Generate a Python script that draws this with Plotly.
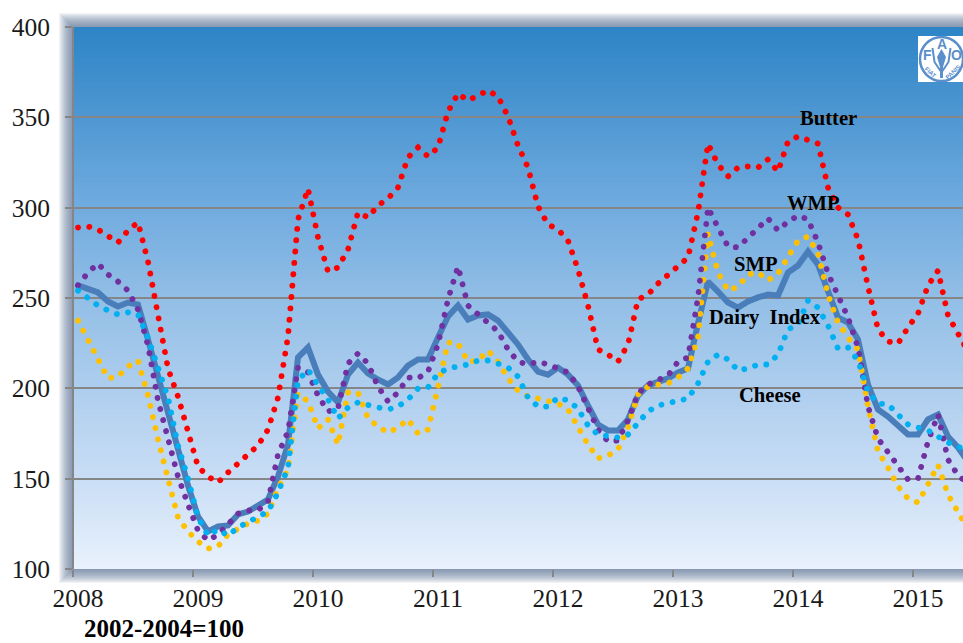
import plotly.graph_objects as go

# FAO dairy price indices, monthly from January 2008 (2002-2004 = 100)
butter = [289.0, 289.6, 287.9, 284.0, 280.7, 287.4, 291.8, 270.2, 240.3, 211.0, 195.5, 175.5,
          156.7, 151.2, 147.9, 153.4, 158.9, 163.4, 168.4, 177.2, 194.9, 228.7, 293.5, 310.6,
          283.5, 264.7, 266.9, 276.8, 297.3, 294.6, 301.2, 305.1, 311.2, 327.8, 333.3, 328.3,
          333.3, 353.2, 363.2, 359.3, 362.1, 364.9, 361.5, 350.5, 334.4, 322.2, 300.7, 290.7,
          287.9, 281.8, 265.8, 245.8, 221.5, 218.7, 214.8, 224.3, 249.2, 251.9, 258.0, 262.5,
          267.4, 272.4, 297.3, 335.4, 323.9, 317.3, 322.2, 322.8, 322.2, 326.7, 320.0, 336.6,
          339.4, 337.7, 335.5, 311.2, 300.1, 296.2, 282.4, 256.3, 232.6, 225.9, 224.8, 233.7,
          241.4, 256.9, 265.1, 240.3, 230.3, 220.4]
dairy_index = [257.0, 255.3, 253.1, 248.1, 245.3, 247.5, 246.4, 227.0, 206.0, 186.1, 166.1, 146.2,
               129.1, 120.8, 123.5, 124.1, 130.2, 131.8, 135.1, 138.5, 151.2, 168.9, 217.1, 222.6,
               207.6, 198.2, 192.2, 207.6, 214.3, 208.2, 204.9, 202.1, 206.0, 212.6, 216.0, 216.0,
               228.1, 239.8, 245.8, 238.1, 240.3, 240.9, 237.5, 230.9, 224.3, 216.0, 209.3, 207.6,
               211.5, 207.6, 201.6, 190.5, 180.0, 176.7, 176.7, 182.8, 196.0, 201.6, 203.8, 205.5,
               208.8, 211.0, 235.9, 259.1, 253.6, 247.5, 244.7, 248.1, 250.3, 251.9, 251.4, 264.1,
               268.0, 275.7, 268.5, 253.6, 239.2, 236.4, 227.0, 202.1, 188.3, 184.4, 178.9, 174.4,
               174.4, 182.8, 185.5, 173.3, 167.3, 159.5]
wmp = [257.0, 264.1, 269.1, 263.0, 259.1, 254.1, 243.6, 223.7, 193.3, 171.1, 151.2, 135.7,
       121.3, 115.8, 119.1, 124.6, 130.7, 132.4, 132.4, 137.4, 163.4, 176.1, 211.5, 208.8,
       196.0, 187.2, 188.8, 213.7, 219.3, 213.7, 201.0, 192.7, 197.7, 206.0, 205.5, 209.3,
       224.3, 249.2, 267.4, 245.8, 240.9, 237.0, 231.5, 221.5, 214.8, 213.2, 214.8, 213.2,
       211.0, 208.8, 201.0, 189.9, 177.2, 170.6, 171.1, 182.2, 197.2, 202.1, 204.9, 207.1,
       214.8, 217.1, 250.3, 300.1, 289.0, 278.5, 278.0, 283.5, 289.0, 294.0, 287.4, 292.3,
       295.6, 293.5, 280.7, 263.6, 251.4, 239.2, 222.6, 189.9, 172.2, 164.5, 156.2, 149.5,
       150.1, 170.6, 185.5, 160.6, 151.8, 147.3]
smp = [237.5, 227.0, 214.8, 205.5, 206.5, 212.1, 215.4, 196.0, 171.7, 149.5, 128.5, 120.8,
       115.2, 111.3, 112.5, 119.1, 122.4, 125.2, 126.8, 130.7, 144.6, 155.1, 197.2, 192.7,
       177.8, 182.8, 168.9, 197.7, 197.7, 183.3, 178.9, 175.5, 178.3, 182.8, 175.0, 177.2,
       200.5, 225.4, 224.8, 214.8, 215.4, 220.9, 214.8, 205.5, 198.8, 195.5, 194.4, 193.3,
       191.6, 188.3, 178.9, 168.9, 161.2, 162.8, 166.1, 178.3, 196.6, 201.0, 202.1, 202.7,
       206.0, 211.0, 228.1, 285.7, 264.1, 254.1, 256.3, 263.0, 264.1, 259.7, 263.6, 272.4,
       281.8, 284.0, 274.6, 251.9, 236.4, 228.1, 221.5, 189.9, 165.0, 156.2, 145.7, 139.0,
       136.8, 146.8, 157.6, 141.2, 130.7, 121.9]
cheese = [254.1, 250.3, 245.8, 243.1, 240.9, 242.0, 240.9, 228.1, 211.0, 194.9, 168.4, 150.1,
          128.5, 118.5, 121.9, 118.5, 123.0, 125.7, 129.1, 131.8, 142.3, 156.2, 204.3, 210.4,
          201.6, 193.8, 183.3, 189.4, 192.2, 190.5, 189.4, 188.3, 189.9, 193.8, 199.9, 200.5,
          208.2, 211.0, 212.1, 213.2, 215.4, 215.4, 213.7, 211.5, 206.5, 194.9, 189.9, 189.9,
          194.9, 193.3, 188.8, 179.4, 174.4, 173.3, 172.8, 174.4, 181.1, 187.2, 190.5, 191.6,
          192.7, 194.4, 202.7, 214.8, 218.7, 216.0, 209.9, 211.0, 213.2, 213.2, 218.7, 232.6,
          235.3, 248.6, 244.7, 234.8, 222.0, 222.6, 215.4, 198.2, 191.6, 191.1, 185.5, 180.0,
          178.3, 176.7, 173.3, 170.0, 167.8, 165.0]

years = ["2008", "2009", "2010", "2011", "2012", "2013", "2014", "2015"]
y_ticks = [100, 150, 200, 250, 300, 350, 400]
series_labels = ["Butter", "WMP", "SMP", "Dairy\u00a0 Index", "Cheese"]
base_note = "2002-2004=100"

W, H = 963, 643
L, R, T, B = 73, 0, 27, 74
SERIF = "Liberation Serif"
GRID = "#868686"
DOT = "0.1px,11.3px"

months = [i + 0.5 for i in range(len(butter))]


def fx(px):
    return (px - L) / (W - L - R)


def fy(py):
    return 1 - (py - T) / (H - T - B)


fig = go.Figure()

# Solid index line first, dotted commodity series over it
fig.add_trace(go.Scatter(x=months, y=dairy_index, mode="lines", name="Dairy Index",
                         line=dict(color="#4A7EBB", width=6)))
for values, label, colour in [(butter, "Butter", "#FF0000"), (smp, "SMP", "#FFC000"),
                              (wmp, "WMP", "#7030A0"), (cheese, "Cheese", "#00B0F0")]:
    fig.add_trace(go.Scatter(x=months, y=values, mode="lines", name=label,
                             line=dict(color=colour, width=5.8, dash=DOT)))

shapes = []

# Soft shadow behind the plot area
for grow in range(14, 0, -1):
    shapes.append(dict(type="rect", xref="paper", yref="paper", layer="below",
                       x0=fx(L - grow), x1=1, y0=fy(T - grow), y1=fy(H - B + grow),
                       line_width=0, fillcolor="rgba(105,125,160,0.09)"))

# Vertical background gradient, painted top-down so each band covers the rest
stops = [(0.00, (46, 133, 198)), (0.17, (80, 152, 211)), (0.33, (112, 171, 223)),
         (0.50, (146, 190, 230)), (0.67, (174, 206, 238)), (0.83, (200, 221, 245)),
         (1.00, (232, 241, 252))]
bands = 136
for k in range(bands):
    t = k / (bands - 1)
    for (a, ca), (b, cb) in zip(stops, stops[1:]):
        if a <= t <= b:
            m = (t - a) / (b - a)
            rgb = [round(p + (q - p) * m) for p, q in zip(ca, cb)]
            break
    shapes.append(dict(type="rect", xref="paper", yref="paper", layer="below",
                       x0=0, x1=1, y0=0, y1=1 - k / bands,
                       line_width=0, fillcolor=f"rgb({rgb[0]},{rgb[1]},{rgb[2]})"))

# Left axis line, centred on the first tick
shapes.append(dict(type="line", xref="paper", yref="paper", layer="above",
                   x0=0, x1=0, y0=0, y1=1, line=dict(color=GRID, width=2)))

# FAO emblem
LOGO = "#5A8FCB"
shapes.append(dict(type="rect", xref="paper", yref="paper", layer="above",
                   x0=fx(918), x1=1, y0=fy(82), y1=fy(36), line_width=0, fillcolor="white"))
shapes.append(dict(type="circle", xref="paper", yref="paper", layer="above",
                   x0=fx(920), x1=fx(963), y0=fy(81), y1=fy(37),
                   line=dict(color=LOGO, width=2.5), fillcolor="white"))
ear = [(941.5, 49), (946, 57), (943, 67), (943, 78), (940, 78), (940, 67), (937, 57)]
shapes.append(dict(type="path", xref="paper", yref="paper", layer="above",
                   path="M " + " L ".join(f"{fx(x):.5f},{fy(y):.5f}" for x, y in ear) + " Z",
                   line_width=0, fillcolor=LOGO))
for side in (-1, 1):
    stalk = [(941.5 + side * 9, 48), (941.5 + side * 7, 62), (941.5 + side * 1, 71)]
    shapes.append(dict(type="path", xref="paper", yref="paper", layer="above",
                       path="M " + " L ".join(f"{fx(x):.5f},{fy(y):.5f}" for x, y in stalk),
                       line=dict(color=LOGO, width=2)))


def page_text(px, py, text, size, colour="black", bold=True, angle=0, family=SERIF):
    weight = "bold" if bold else "normal"
    return dict(x=fx(px), y=fy(py), xref="paper", yref="paper", text=text, showarrow=False,
                xanchor="center", yanchor="middle", textangle=angle,
                font=dict(family=family, size=size, color=colour, weight=weight))


# Series names sit directly on the plot
label_positions = [(828, 118), (813, 203), (755, 264), (765, 317), (770, 395)]
annotations = [page_text(px, py, text, 20.6) for text, (px, py) in zip(series_labels, label_positions)]
annotations.append(page_text(164, 628, base_note, 25))

SANS = "Liberation Sans"
annotations += [
    page_text(927, 55, "F", 14, LOGO, family=SANS),
    page_text(942, 44, "A", 14, LOGO, family=SANS),
    page_text(956, 55, "O", 14, LOGO, family=SANS),
    page_text(930, 72, "FIAT", 6, LOGO, angle=42, family=SANS),
    page_text(953, 72, "PANIS", 6, LOGO, angle=-42, family=SANS),
]

fig.update_layout(
    width=W, height=H, autosize=False,
    margin=dict(l=L, r=R, t=T, b=B, pad=0),
    paper_bgcolor="white", plot_bgcolor="white",
    showlegend=False,
    shapes=shapes, annotations=annotations,
    font=dict(family=SERIF, color="#1a1a1a"),
    xaxis=dict(range=[0, 89], tickmode="array", tickvals=[12 * i for i in range(len(years))],
               ticktext=years, ticks="outside", ticklen=7, tickwidth=2, tickcolor=GRID,
               showgrid=False, zeroline=False, showline=False,
               tickfont=dict(family=SERIF, size=25.5, color="#1a1a1a"),
               ticklabelshift=5, ticklabelstandoff=-1),
    yaxis=dict(range=[100, 400], tickmode="array", tickvals=y_ticks, ticks="outside",
               ticklen=7, tickwidth=2, tickcolor=GRID,
               showgrid=True, gridcolor=GRID, gridwidth=2, zeroline=False, showline=False,
               tickfont=dict(family=SERIF, size=25.5, color="#1a1a1a"),
               ticklabelstandoff=10),
)

# Round line caps turn the near-zero dashes into circular dots
round_caps = ("var s=document.createElement('style');"
              "s.textContent='.js-line{stroke-linecap:round}';"
              "document.head.appendChild(s);")
fig.write_html("out.html", post_script=round_caps, config=dict(displayModeBar=False))
